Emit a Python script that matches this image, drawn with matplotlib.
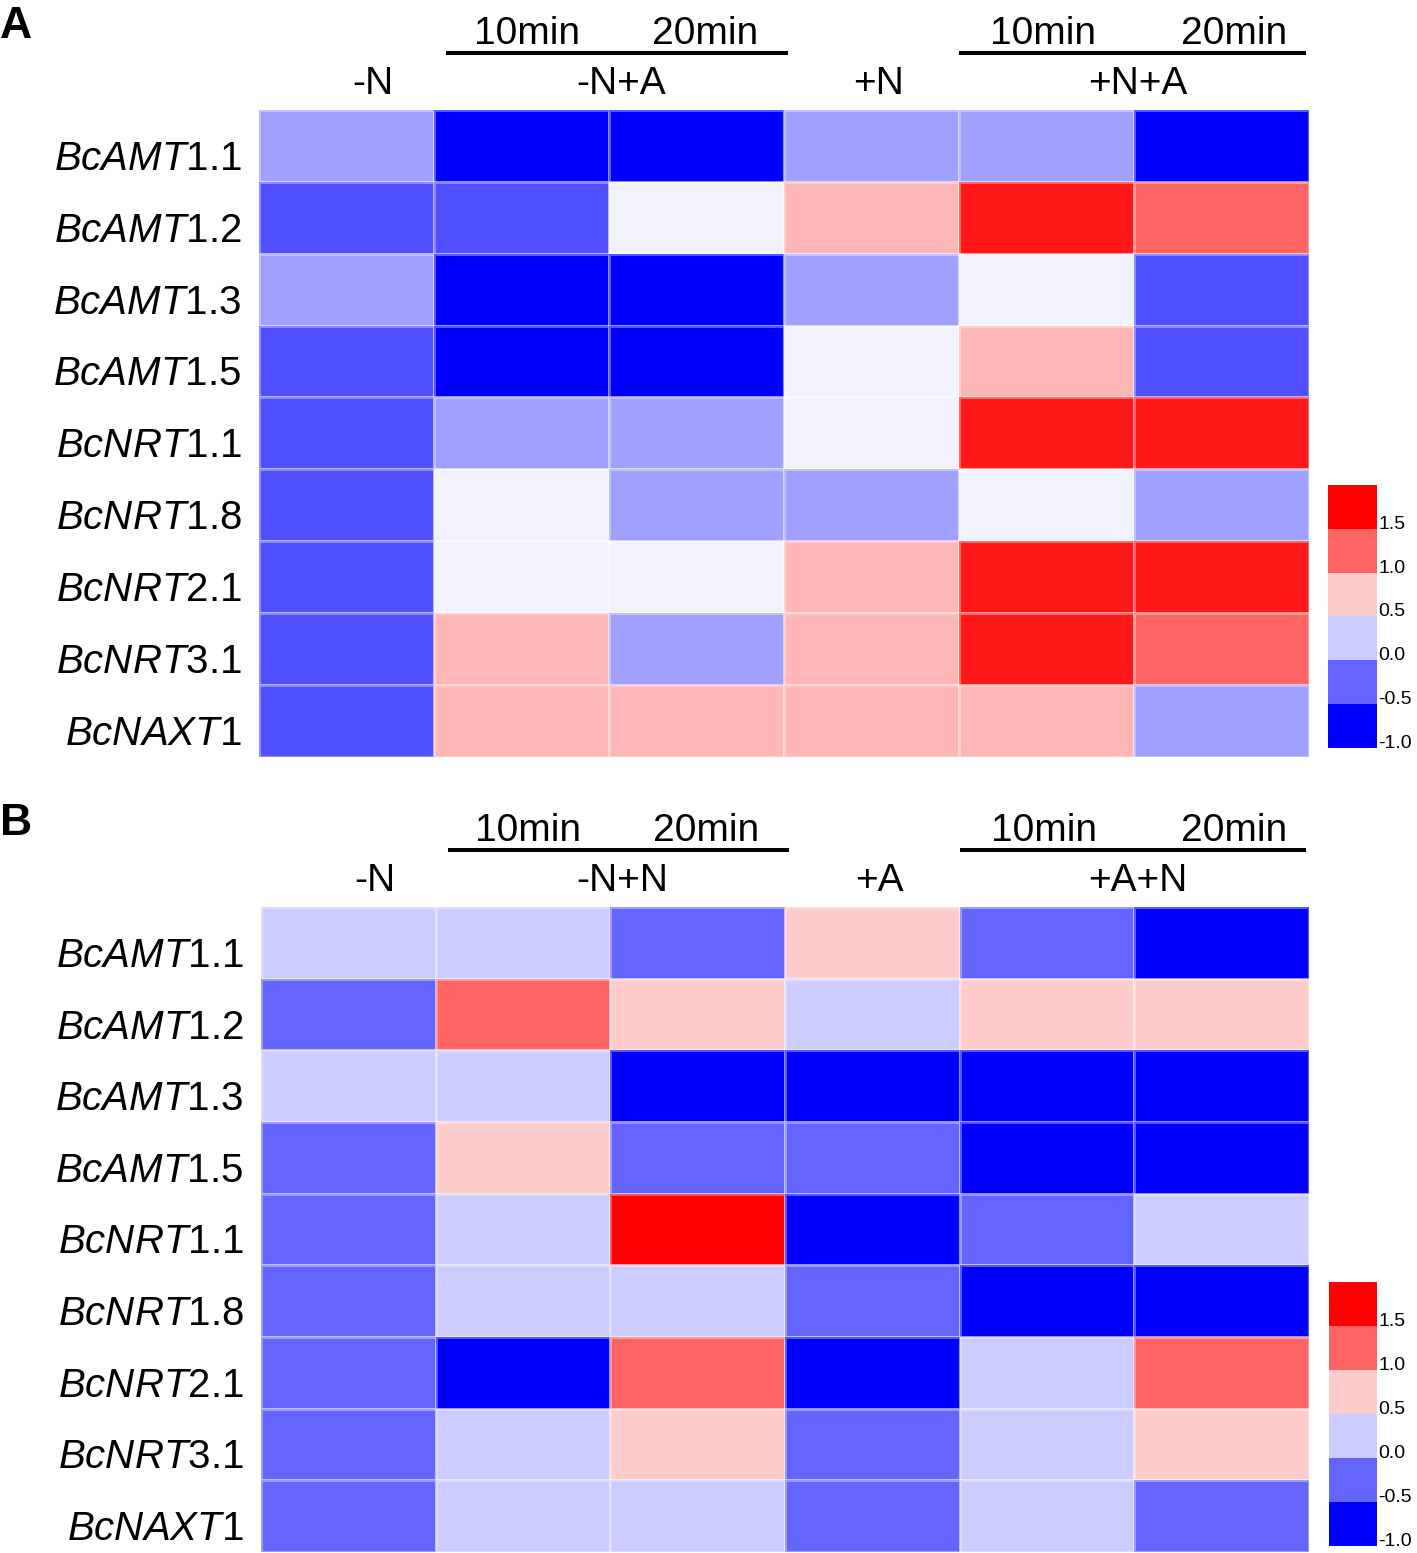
import numpy as np
import matplotlib.pyplot as plt
from matplotlib.colors import LinearSegmentedColormap, ListedColormap, BoundaryNorm, Normalize
from matplotlib.cm import ScalarMappable

plt.rcParams['font.family'] = ['Liberation Sans', 'DejaVu Sans']
plt.rcParams['mathtext.fontset'] = 'custom'
plt.rcParams['mathtext.rm'] = 'Liberation Sans'
plt.rcParams['mathtext.it'] = 'Liberation Sans:italic'
plt.rcParams['axes.unicode_minus'] = False

gene_stem = ["BcAMT", "BcAMT", "BcAMT", "BcAMT", "BcNRT", "BcNRT", "BcNRT", "BcNRT", "BcNAXT"]
gene_num = ["1.1", "1.2", "1.3", "1.5", "1.1", "1.8", "2.1", "3.1", "1"]

# panel A: -N | -N+A 10min, 20min | +N | +N+A 10min, 20min
vals_a = np.array([
    [-0.21, -1.00, -1.00, -0.21, -0.21, -1.00],
    [-0.60, -0.60,  0.19,  0.61,  1.38,  1.01],
    [-0.21, -1.00, -1.00, -0.21,  0.19, -0.60],
    [-0.60, -1.00, -1.00,  0.19,  0.61, -0.60],
    [-0.60, -0.21, -0.21,  0.19,  1.38,  1.38],
    [-0.60,  0.19, -0.21, -0.21,  0.19, -0.21],
    [-0.60,  0.19,  0.19,  0.61,  1.38,  1.38],
    [-0.60,  0.61, -0.21,  0.61,  1.38,  1.01],
    [-0.60,  0.61,  0.61,  0.61,  0.61, -0.21],
])

# panel B: -N | -N+N 10min, 20min | +A | +A+N 10min, 20min
vals_b = np.array([
    [ 0.25,  0.25, -0.25,  0.75, -0.25, -0.75],
    [-0.25,  1.25,  0.75,  0.25,  0.75,  0.75],
    [ 0.25,  0.25, -0.75, -0.75, -0.75, -0.75],
    [-0.25,  0.75, -0.25, -0.25, -0.75, -0.75],
    [-0.25,  0.25,  1.75, -0.75, -0.25,  0.25],
    [-0.25,  0.25,  0.25, -0.25, -0.75, -0.75],
    [-0.25, -0.75,  1.25, -0.75,  0.25,  1.25],
    [-0.25,  0.25,  0.75, -0.25,  0.25,  0.75],
    [-0.25,  0.25,  0.25, -0.25,  0.25, -0.25],
])

groups_a = ["-N", "-N+A", "+N", "+N+A"]
groups_b = ["-N", "-N+N", "+A", "+A+N"]
times = ["10min", "20min"]
cbar_ticks = [-1.0, -0.5, 0.0, 0.5, 1.0, 1.5]

cont_cmap = LinearSegmentedColormap.from_list("bwr2", ["#0000ff", "#ffffff", "#ff0000"])
step_colors = ["#0000ff", "#6464ff", "#ccccff", "#ffcccc", "#ff6464", "#ff0000"]
step_cmap = ListedColormap(step_colors)
step_norm = BoundaryNorm([-1.0, -0.5, 0.0, 0.5, 1.0, 1.5, 2.0], 6)

fig = plt.figure(figsize=(14.17, 15.53), dpi=100)


def draw_panel(ax, data, cmap, norm, groups):
    nr, nc = data.shape
    ax.pcolormesh(np.arange(nc + 1), np.arange(nr + 1), data, cmap=cmap, norm=norm,
                  edgecolors=(1, 1, 1, 0.35), linewidth=1.0)
    ax.set_xlim(0, nc)
    ax.set_ylim(nr, 0)
    for s in ax.spines.values():
        s.set_visible(False)
    ax.set_xticks([])
    ax.set_yticks([])
    for i, (a, b) in enumerate(zip(gene_stem, gene_num)):
        ax.text(-0.1, i + 0.68, r"$\mathit{%s}$%s" % (a, b), ha='right', va='center',
                fontsize=29, clip_on=False)

    # group headers
    for x, g in zip([0.65, 2.07, 3.54, 5.02], groups):
        ax.text(x, -0.36, g, ha='center', va='center', fontsize=28, clip_on=False)
    for x0, x1, t1, t2 in [(1.07, 3.02, 1.53, 2.55), (4.0, 5.98, 4.48, 5.57)]:
        ax.plot([x0, x1], [-0.79, -0.79], color='black', lw=2.9, clip_on=False,
                solid_capstyle='butt')
        ax.text(t1, -1.06, times[0], ha='center', va='center', fontsize=28, clip_on=False)
        ax.text(t2, -1.06, times[1], ha='center', va='center', fontsize=28, clip_on=False)
    return ax


def draw_cbar(rect):
    cax = fig.add_axes(rect)
    cb = fig.colorbar(ScalarMappable(norm=step_norm, cmap=step_cmap), cax=cax,
                      ticks=cbar_ticks)
    cb.outline.set_visible(False)
    cax.minorticks_off()
    cb.set_ticklabels(["%.1f" % t for t in cbar_ticks])
    cax.tick_params(which='both', length=0, pad=1, labelsize=14)
    for lab in cax.get_yticklabels():
        lab.set_verticalalignment('baseline')


ax_a = fig.add_axes([0.1828, 0.5126, 0.741, 0.4166])
draw_panel(ax_a, vals_a, cont_cmap, Normalize(vmin=-1.0, vmax=1.5), groups_a)
ax_b = fig.add_axes([0.1842, 0.0006, 0.7396, 0.4153])
draw_panel(ax_b, vals_b, step_cmap, step_norm, groups_b)

draw_cbar([0.9372, 0.5184, 0.0346, 0.1693])
draw_cbar([0.9379, 0.0045, 0.0339, 0.1700])

fig.text(0.0, 0.996, "A", fontsize=32, fontweight='bold', ha='left', va='top')
fig.text(0.0, 0.483, "B", fontsize=32, fontweight='bold', ha='left', va='top')

fig.savefig("out.png", dpi=100)
